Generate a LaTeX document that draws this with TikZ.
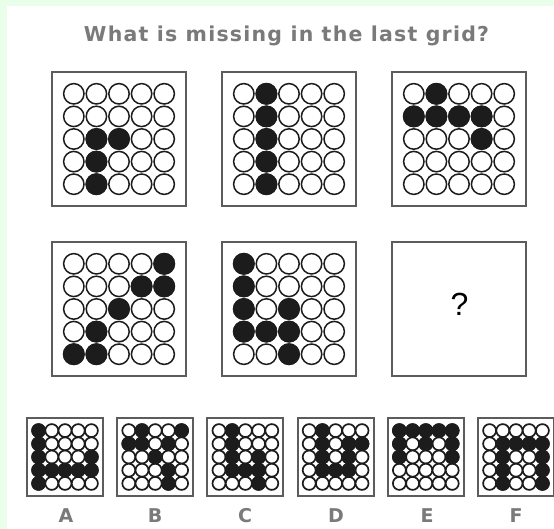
\documentclass[tikz,border=0pt]{standalone}
\usepackage{fontspec}
\setmainfont{DejaVu Sans}
\newfontfamily\titlefont[LetterSpace=6]{DejaVu Sans Bold}
\newfontfamily\labelfont{DejaVu Sans Bold}
\newfontfamily\qfont{Liberation Sans}
\definecolor{panelgreen}{HTML}{EAFFEA}
\definecolor{txtgray}{HTML}{7A7A7A}
\definecolor{framegray}{HTML}{5C5C5C}
\definecolor{dotink}{HTML}{1C1C1C}
\tikzset{
  boxframe/.style={draw=framegray, line width=2pt, fill=white},
  dotring/.style={draw=dotink, fill=white},
  dotfill/.style={fill=dotink},
  titletext/.style={text=txtgray, font=\titlefont\fontsize{20.5}{24}\selectfont, inner sep=0pt, anchor=base},
  choicelabel/.style={text=txtgray, font=\labelfont\fontsize{19}{22}\selectfont, inner sep=0pt, anchor=base},
  qmark/.style={text=black, font=\qfont\fontsize{32}{36}\selectfont, inner sep=0pt}
}
% #1 x left, #2 y top, #3 w, #4 h, #5 pitch, #6 radius, #7 line width, #8 filled cells row/col
\newcommand\dotgrid[8]{%
  \draw[boxframe] (#1,#2) rectangle ++(#3,#4);
  \foreach \ri in {1,...,5}{\foreach \ci in {1,...,5}{
    \draw[dotring, line width=#7pt] ({#1+#3/2+(\ci-3)*#5},{#2+#4/2+(\ri-3)*#5}) circle[radius=#6pt];}}
  \foreach \ri/\ci in {#8}{
    \fill[dotfill] ({#1+#3/2+(\ci-3)*#5},{#2+#4/2+(\ri-3)*#5}) circle[radius={(#6+#7/2)*1pt}];}
}
\begin{document}
\begin{tikzpicture}[x=1pt,y=-1pt]
\useasboundingbox (0,0) rectangle (554,529);
\fill[panelgreen] (0,0) rectangle (554,529);
\fill[white] (7,6) rectangle (554,529);
\node[titletext] (title) at (286.5,41.5) {What is missing in the last grid?};
% big grids
\def\bw{134}\def\bp{22.6}\def\br{10.2}\def\bl{1.5}
\dotgrid{52}{72}{\bw}{\bw}{\bp}{\br}{\bl}{3/2,3/3,4/2,5/2}
\dotgrid{222}{72}{\bw}{\bw}{\bp}{\br}{\bl}{1/2,2/2,3/2,4/2,5/2}
\dotgrid{392}{72}{\bw}{\bw}{\bp}{\br}{\bl}{1/2,2/1,2/2,2/3,2/4,3/4}
\dotgrid{52}{242}{\bw}{\bw}{\bp}{\br}{\bl}{1/5,2/4,2/5,3/3,4/2,5/1,5/2}
\dotgrid{222}{242}{\bw}{\bw}{\bp}{\br}{\bl}{1/1,2/1,3/1,3/3,4/1,4/2,4/3,5/3}
\draw[boxframe] (392,242) rectangle ++(\bw,\bw);
\node[qmark] (q) at (459.5,304.5) {?};
% answer grids
\def\sw{76}\def\sh{78}\def\sp{13.2}\def\sr{6.5}\def\sl{1.7}
\dotgrid{27}{418}{\sw}{\sh}{\sp}{\sr}{\sl}{1/1,2/1,3/1,3/5,4/1,4/2,4/3,4/4,4/5,5/1}
\dotgrid{117.2}{418}{\sw}{\sh}{\sp}{\sr}{\sl}{1/2,1/5,2/1,2/2,2/4,3/3,4/4,5/4}
\dotgrid{207.4}{418}{\sw}{\sh}{\sp}{\sr}{\sl}{1/2,2/2,3/2,3/4,4/2,4/3,4/4,5/4}
\dotgrid{297.6}{418}{\sw}{\sh}{\sp}{\sr}{\sl}{1/2,2/2,2/4,2/5,3/2,3/4,4/2,4/3,4/4}
\dotgrid{387.8}{418}{\sw}{\sh}{\sp}{\sr}{\sl}{1/1,1/2,1/3,1/4,1/5,2/1,2/3,2/5,3/1,3/5}
\dotgrid{478}{418}{\sw}{\sh}{\sp}{\sr}{\sl}{2/2,2/3,2/4,2/5,3/2,3/5,4/2,4/5,5/2,5/5}
\node[choicelabel] (la) at (66,522) {A};
\node[choicelabel] (lb) at (155,522) {B};
\node[choicelabel] (lc) at (245,522) {C};
\node[choicelabel] (ld) at (336,522) {D};
\node[choicelabel] (le) at (427,522) {E};
\node[choicelabel] (lf) at (516,522) {F};
\end{tikzpicture}
\end{document}
